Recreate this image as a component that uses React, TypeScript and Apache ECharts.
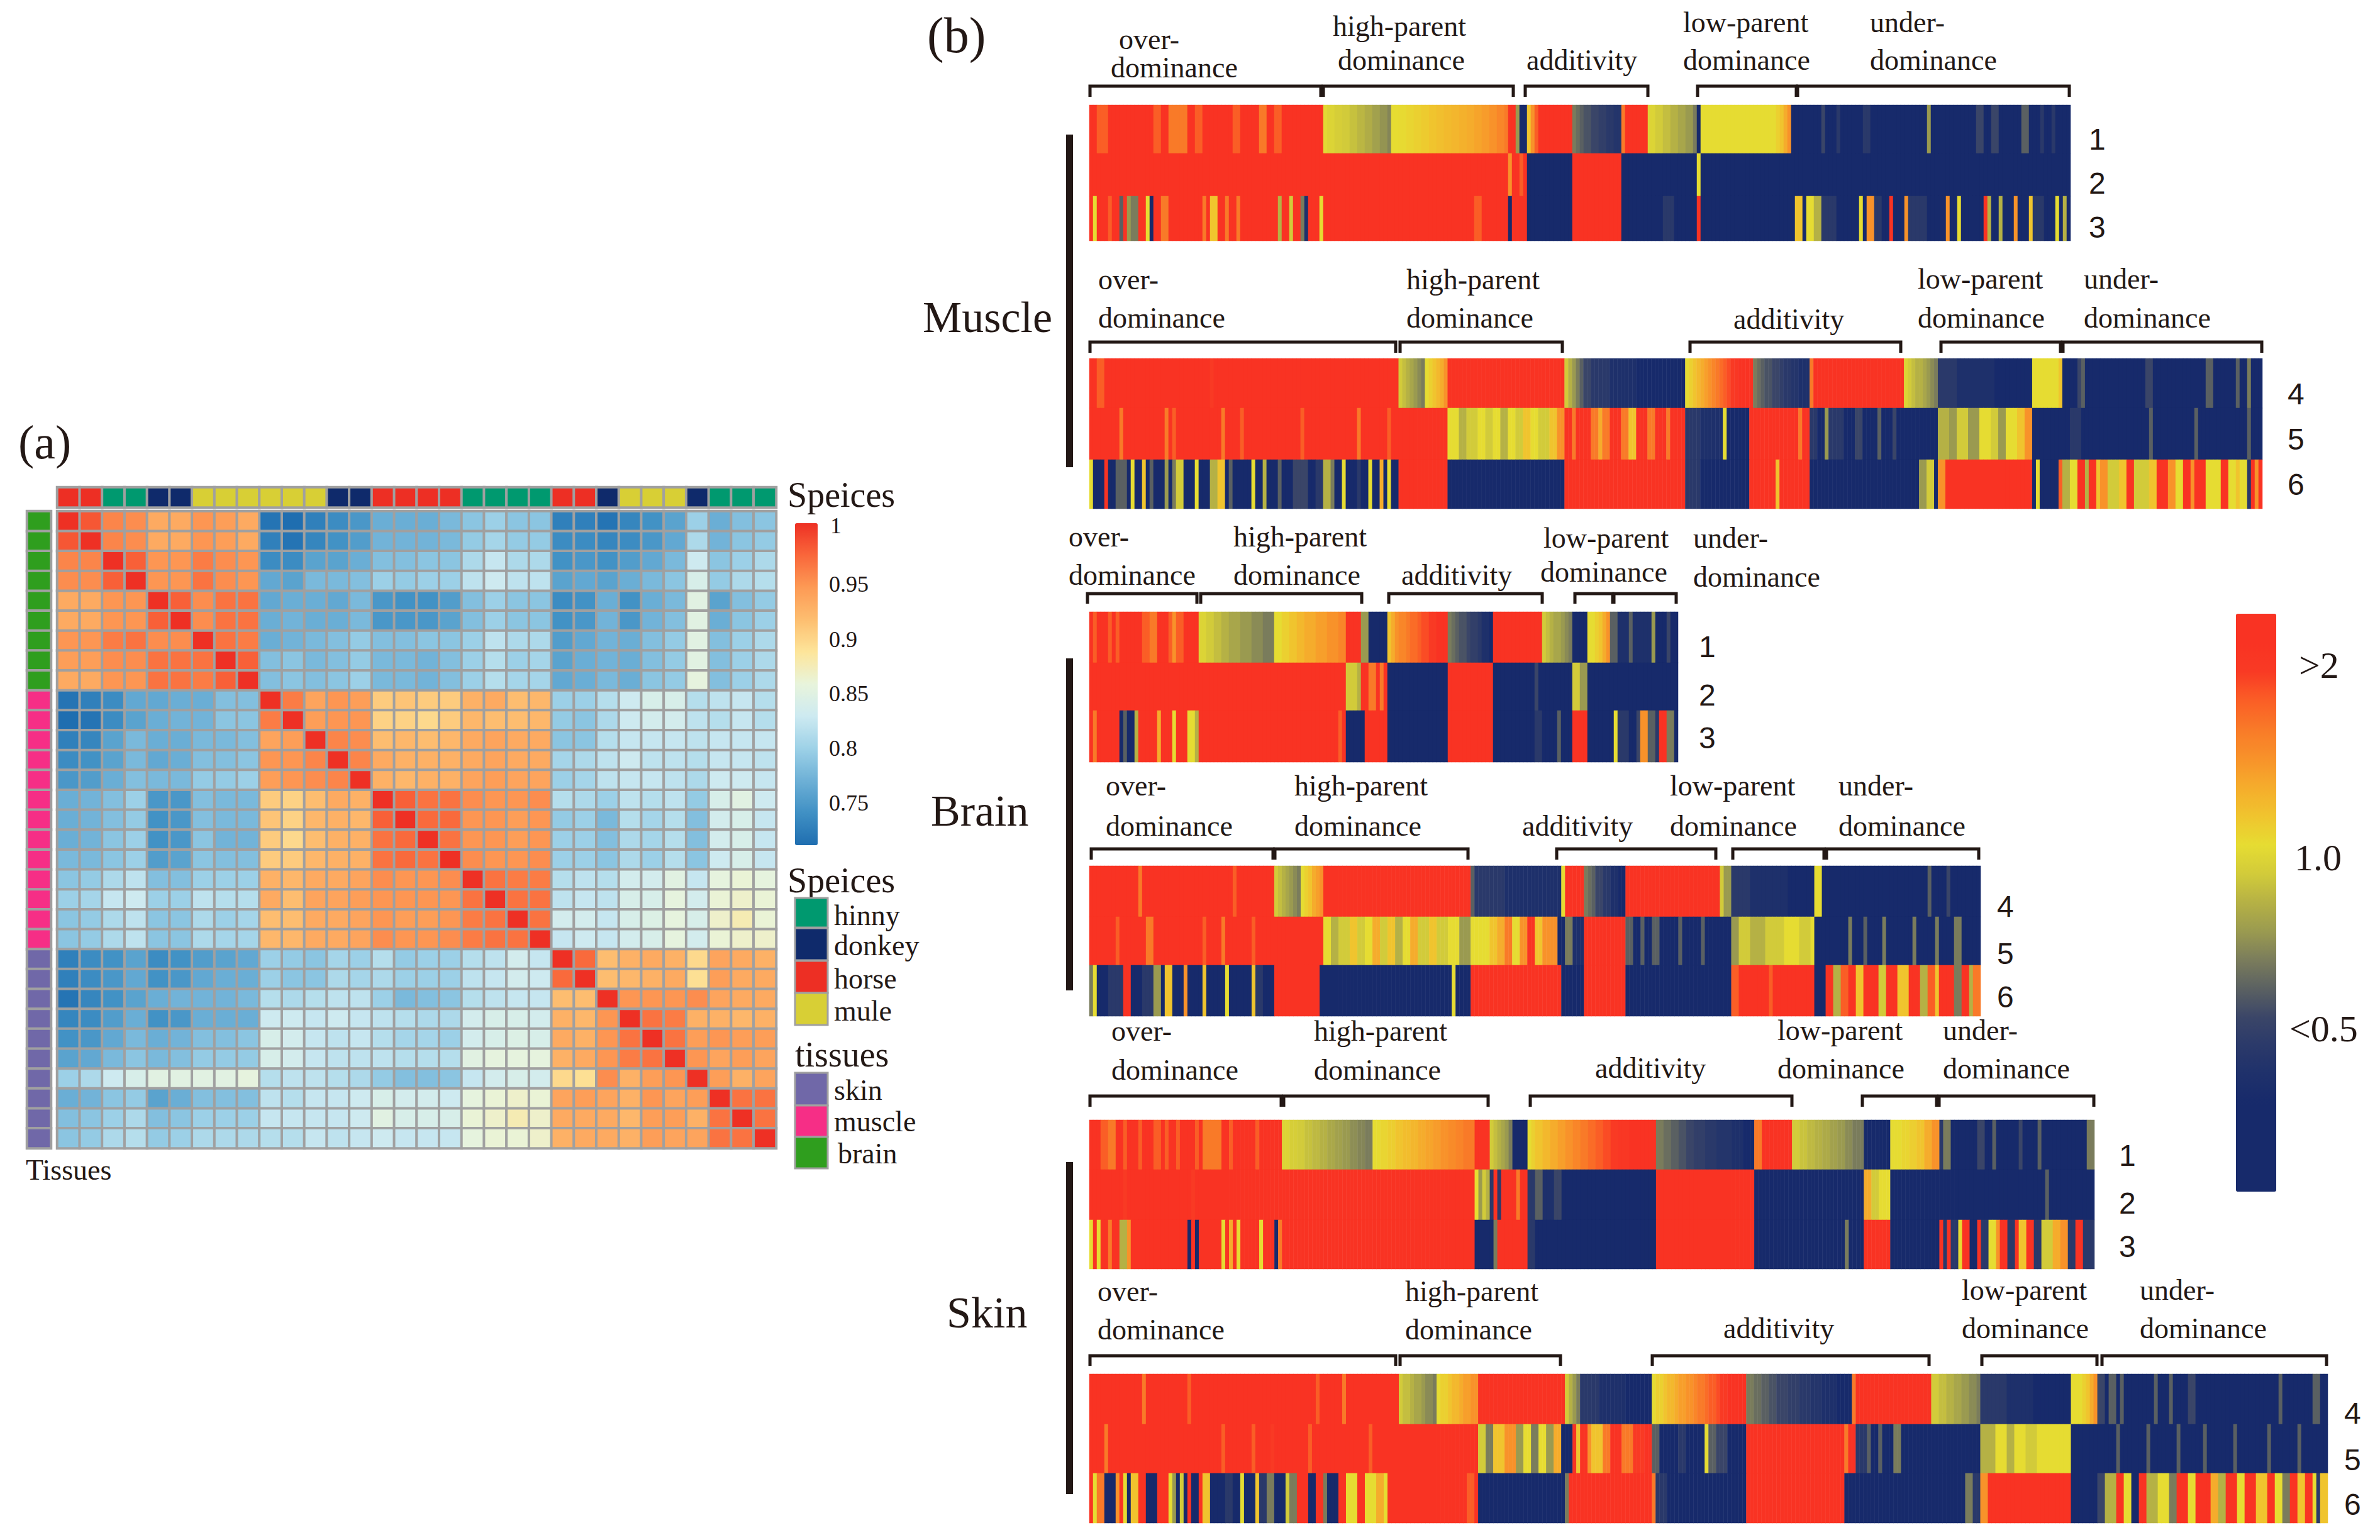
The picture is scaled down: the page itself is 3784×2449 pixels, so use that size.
import React, { useEffect, useRef } from "react";
import * as echarts from "echarts";

// ---------- panel (a): sample annotations (0 hinny, 1 donkey, 2 horse, 3 mule / 0 skin, 1 muscle, 2 brain)
const speciesNames = ["hinny", "donkey", "horse", "mule"];
const tissueNames = ["skin", "muscle", "brain"];
const speciesColors = ["#00996F", "#0F2A6B", "#ED2F24", "#D8CF35"];
const tissueColors = ["#7068A8", "#F62E86", "#2F9E1E"];
const sampleSpecies = [2, 2, 0, 0, 1, 1, 3, 3, 3, 3, 3, 3, 1, 1, 2, 2, 2, 2, 0, 0, 0, 0, 2, 2, 1, 3, 3, 3, 1, 0, 0, 0];
const sampleTissue = [2, 2, 2, 2, 2, 2, 2, 2, 2, 1, 1, 1, 1, 1, 1, 1, 1, 1, 1, 1, 1, 1, 0, 0, 0, 0, 0, 0, 0, 0, 0, 0];

// upper triangle of the correlation matrix, each row starts on the diagonal
const corrUpper = [
  [1, .98, .955, .95, .93, .93, .945, .94, .93, .72, .715, .73, .74, .75, .77, .77, .77, .78, .79, .80, .79, .79, .73, .73, .72, .735, .745, .76, .80, .77, .785, .79],
  [1, .955, .95, .93, .93, .945, .94, .93, .73, .72, .735, .745, .755, .775, .775, .775, .78, .795, .805, .795, .795, .74, .74, .735, .74, .75, .765, .81, .775, .79, .795],
  [1, .975, .945, .945, .96, .95, .945, .74, .74, .76, .76, .77, .785, .785, .79, .79, .81, .825, .81, .81, .745, .75, .745, .755, .765, .78, .83, .79, .80, .81],
  [1, .945, .945, .965, .95, .945, .765, .76, .78, .78, .785, .80, .795, .80, .80, .82, .83, .82, .82, .76, .765, .76, .77, .78, .79, .84, .795, .81, .815],
  [1, .975, .95, .965, .965, .765, .77, .77, .765, .78, .75, .745, .745, .755, .785, .80, .79, .79, .74, .745, .77, .745, .77, .78, .85, .76, .785, .795],
  [1, .95, .965, .965, .77, .775, .77, .77, .78, .75, .75, .75, .76, .785, .80, .79, .79, .745, .75, .775, .75, .775, .785, .85, .77, .79, .80],
  [1, .965, .96, .77, .775, .78, .785, .795, .785, .785, .79, .79, .80, .82, .81, .81, .755, .765, .775, .77, .785, .795, .85, .785, .80, .81],
  [1, .975, .785, .79, .78, .785, .795, .78, .78, .775, .785, .80, .815, .80, .805, .76, .77, .775, .77, .785, .795, .85, .785, .80, .81],
  [1, .785, .79, .785, .79, .80, .78, .78, .775, .785, .80, .815, .805, .805, .765, .77, .78, .77, .79, .795, .855, .785, .80, .81],
  [1, .96, .935, .945, .94, .905, .91, .905, .905, .925, .93, .915, .92, .80, .80, .815, .83, .84, .84, .815, .82, .825, .815],
  [1, .94, .945, .945, .90, .90, .895, .905, .92, .915, .915, .92, .795, .79, .81, .83, .835, .835, .82, .815, .825, .815],
  [1, .955, .95, .915, .92, .915, .92, .93, .935, .93, .93, .79, .79, .815, .825, .825, .825, .82, .825, .825, .825],
  [1, .955, .93, .925, .925, .925, .93, .935, .93, .93, .805, .81, .82, .83, .82, .82, .815, .825, .825, .82],
  [1, .925, .92, .925, .925, .935, .94, .935, .935, .80, .805, .82, .825, .825, .82, .81, .83, .83, .825],
  [1, .975, .965, .965, .95, .945, .945, .95, .815, .81, .80, .82, .815, .82, .795, .84, .85, .83],
  [1, .97, .97, .945, .945, .94, .945, .795, .80, .78, .815, .805, .815, .785, .835, .84, .825],
  [1, .965, .945, .945, .94, .945, .80, .80, .785, .81, .805, .815, .785, .835, .84, .825],
  [1, .95, .945, .945, .95, .80, .80, .79, .81, .80, .815, .79, .83, .84, .825],
  [1, .965, .96, .96, .815, .82, .815, .835, .835, .85, .825, .855, .86, .855],
  [1, .965, .965, .82, .825, .82, .84, .84, .855, .835, .86, .865, .86],
  [1, .965, .835, .835, .825, .84, .845, .855, .84, .865, .875, .86],
  [1, .825, .83, .825, .835, .84, .855, .835, .86, .865, .865],
  [1, .97, .915, .925, .93, .925, .895, .935, .93, .925],
  [1, .915, .92, .925, .93, .89, .94, .93, .93],
  [1, .945, .945, .945, .95, .935, .93, .93],
  [1, .965, .96, .925, .925, .92, .925],
  [1, .965, .94, .945, .94, .94],
  [1, .945, .935, .94, .935],
  [1, .94, .925, .935],
  [1, .965, .965],
  [1, .965],
  [1],
];

const corrTicks = ["1", "0.95", "0.9", "0.85", "0.8", "0.75"];
const foldTicks = [">2", "1.0", "<0.5"];

// ---------- panel (b): each row is a flat list  level, endColumn, level, endColumn ...
// level: 19 red, 15 orange, 12 yellow, 8 grey, 3 navy
const m1r1 = [19, 2, 17, 5, 19, 17, 17, 19, 19, 21, 16, 26, 19, 28, 17, 30, 19, 38, 17, 40, 19, 45, 16, 47, 19, 49, 17, 51, 19, 62, 11.8, 63, 11.5, 65, 11.2, 67, 11, 69, 10.6, 71, 10.2, 73, 9.8, 75, 9.3, 77, 8.8, 79, 8.3, 80, 12, 82, 12.1, 84, 12.3, 86, 12.5, 88, 12.7, 90, 13, 92, 13.2, 94, 13.4, 96, 13.6, 98, 13.8, 100, 14, 102, 14.3, 104, 14.6, 106, 15, 108, 15.5, 110, 16, 111, 19, 113, 9, 114, 3, 116, 13, 117, 15, 118, 17, 119, 19, 128, 8, 129, 7.5, 130, 7, 131, 6.5, 133, 6, 135, 5.5, 137, 5, 139, 4.5, 141, 16, 142, 19, 148, 11.5, 150, 11, 152, 10.5, 154, 10, 156, 9.5, 158, 9, 160, 8, 161, 3, 162, 12, 182, 12.5, 183, 13, 184, 14, 185, 15, 186, 3, 194, 6, 195, 3, 198, 5, 199, 3, 205, 5, 207, 3, 222, 9, 223, 3, 235, 6, 237, 3, 239, 6, 241, 3, 247, 7, 249, 3, 252, 5, 253, 3, 255, 5, 256, 3, 260];
const m1r2 = [19, 111, 15, 112, 19, 114, 17, 115, 19, 116, 3, 128, 19, 141, 3, 161, 12, 162, 3, 260];
const m1r3 = [19, 1, 12, 2, 19, 5, 17, 6, 19, 8, 7, 9, 19, 10, 9, 11, 8, 13, 19, 15, 12, 16, 3, 17, 19, 19, 16, 21, 19, 30, 16, 31, 19, 32, 13, 34, 19, 36, 16, 37, 19, 39, 16, 40, 19, 50, 10, 51, 19, 53, 11, 54, 19, 56, 8, 57, 4, 58, 19, 61, 12, 62, 19, 102, 17, 104, 19, 111, 3, 112, 19, 116, 3, 128, 19, 141, 3, 152, 5, 155, 3, 161, 19, 162, 3, 187, 13, 189, 3, 190, 12, 192, 10, 194, 5, 198, 3, 204, 12, 205, 3, 206, 15, 208, 5, 210, 3, 212, 19, 213, 3, 216, 15, 217, 5, 222, 3, 227, 15, 228, 3, 230, 12, 231, 3, 237, 19, 238, 10, 239, 3, 241, 10, 242, 3, 245, 15, 246, 3, 249, 13, 250, 5, 253, 3, 256, 12, 257, 3, 258, 10, 259, 3, 260];

const m2r1 = [19, 2, 17, 4, 19, 32, 18, 33, 19, 82, 11, 83, 10.5, 84, 10, 85, 9.5, 86, 9, 87, 8.5, 88, 8, 89, 12, 90, 12.5, 91, 13, 92, 13.5, 93, 14, 94, 15, 95, 19, 126, 11, 127, 10, 128, 9, 129, 8, 130, 7, 131, 6, 133, 5, 138, 4, 145, 3, 158, 12, 159, 12.5, 160, 13, 161, 13.5, 162, 14, 163, 14.5, 164, 15, 165, 15.5, 166, 16, 167, 16.5, 168, 17, 169, 17.5, 170, 18, 171, 18.5, 172, 19, 176, 8, 177, 7.5, 178, 7, 179, 6.5, 181, 6, 183, 5.5, 184, 5, 186, 4.5, 188, 4, 191, 16, 192, 19, 216, 11.5, 217, 11, 218, 10.5, 219, 10, 221, 9.5, 222, 9, 223, 8.5, 224, 8, 225, 5, 230, 4, 240, 3, 250, 12, 257, 13, 258, 3, 262, 6, 263, 7, 264, 3, 280, 6, 282, 3, 296, 7, 298, 3, 304, 7, 305, 3, 307, 8, 308, 3, 311];
const m2r2 = [19, 8, 16, 9, 19, 20, 16, 21, 19, 22, 17, 23, 19, 35, 16, 36, 19, 40, 17, 41, 19, 56, 17, 57, 19, 71, 16, 72, 19, 79, 17, 80, 19, 95, 12, 98, 10, 100, 11, 103, 12, 105, 11, 107, 12, 109, 10, 111, 12, 113, 11, 115, 13, 117, 12, 119, 11, 122, 13, 124, 15, 126, 19, 128, 16, 129, 19, 133, 16, 135, 14, 136, 16, 138, 19, 141, 16, 143, 13, 145, 19, 148, 16, 150, 19, 153, 16, 154, 19, 158, 5, 162, 4, 168, 12, 169, 3, 175, 19, 188, 16, 189, 19, 191, 5, 193, 3, 195, 9, 196, 5, 200, 3, 203, 6, 205, 3, 209, 7, 210, 3, 213, 6, 214, 3, 225, 10, 228, 9, 230, 11, 233, 9, 236, 12, 239, 11, 241, 9, 243, 12, 246, 13, 248, 15, 250, 3, 260, 5, 263, 3, 281, 7, 282, 3, 293, 7, 294, 3, 307, 7, 308, 3, 311];
const m2r3 = [12, 1, 3, 4, 19, 5, 3, 7, 7, 10, 3, 11, 12, 12, 3, 14, 13, 15, 3, 16, 7, 17, 3, 20, 9, 21, 3, 22, 8, 23, 11, 25, 3, 28, 12, 29, 3, 32, 10, 34, 13, 36, 3, 37, 7, 38, 3, 43, 12, 44, 3, 46, 10, 47, 3, 50, 7, 51, 3, 54, 6, 58, 3, 60, 5, 62, 10, 64, 8, 65, 3, 67, 12, 68, 3, 71, 5, 72, 3, 74, 12, 75, 3, 77, 14, 78, 3, 79, 12, 80, 3, 82, 19, 95, 3, 126, 19, 158, 5, 162, 3, 175, 19, 182, 13, 183, 19, 191, 3, 220, 9, 222, 11, 224, 3, 225, 15, 227, 19, 250, 3, 251, 12, 252, 3, 257, 17, 258, 10, 260, 12, 262, 19, 264, 10, 265, 19, 267, 13, 268, 15, 270, 11, 273, 13, 275, 19, 277, 11, 281, 13, 283, 19, 286, 15, 288, 12, 290, 19, 292, 15, 293, 19, 296, 12, 300, 19, 302, 12, 304, 13, 305, 12, 307, 5, 308, 19, 309, 15, 310, 19, 311];

const b1r1 = [19, 1, 17, 2, 19, 5, 17, 6, 19, 7, 17, 8, 19, 14, 17, 16, 16, 18, 19, 21, 17, 22, 15, 23, 17, 25, 19, 29, 11.5, 31, 11, 33, 10.5, 35, 10, 37, 9.5, 40, 9, 43, 8.5, 46, 8, 49, 12, 51, 12.5, 53, 13, 55, 13.5, 57, 14, 60, 14.5, 63, 15, 66, 15.5, 68, 19, 72, 9, 74, 3, 79, 13, 80, 14, 81, 15, 82, 15.5, 84, 16, 85, 16.5, 87, 17, 88, 17.5, 90, 18, 92, 19, 95, 8, 96, 7.5, 97, 7, 98, 6.5, 100, 6, 101, 5.5, 103, 5, 104, 4, 106, 3, 107, 19, 120, 11, 121, 10.5, 122, 10, 123, 9.5, 125, 9, 126, 8.5, 127, 8, 128, 3, 132, 12, 134, 12.5, 135, 13, 136, 14, 137, 15, 138, 7, 140, 4, 143, 7, 144, 4, 149, 9, 150, 3, 153, 6, 154, 3, 156];
const b1r2 = [19, 68, 11, 71, 10, 72, 19, 74, 16, 76, 19, 77, 16, 78, 19, 79, 3, 95, 19, 107, 3, 118, 6, 119, 3, 128, 11, 130, 9, 132, 3, 156];
const b1r3 = [19, 1, 16, 2, 19, 8, 3, 9, 7, 10, 3, 12, 10, 13, 19, 18, 14, 19, 19, 22, 12, 23, 19, 26, 12, 28, 10, 29, 19, 66, 17, 67, 19, 68, 3, 73, 19, 79, 3, 95, 19, 107, 3, 118, 5, 120, 3, 124, 7, 125, 3, 128, 19, 132, 3, 139, 12, 140, 5, 143, 3, 145, 6, 146, 15, 148, 7, 150, 5, 151, 19, 153, 8, 155, 3, 156];

const b2r1 = [19, 13, 16, 14, 19, 38, 17, 39, 19, 49, 11, 50, 10.5, 51, 10, 52, 9.5, 53, 9, 54, 8.5, 55, 8, 56, 12, 57, 12.5, 58, 13, 59, 14, 60, 14.5, 61, 15, 62, 19, 101, 7, 102, 5, 110, 4, 125, 12, 126, 19, 131, 8, 132, 7.5, 133, 7, 134, 6, 136, 5, 138, 4, 140, 3, 142, 19, 167, 11, 168, 9, 170, 5, 175, 4, 185, 3, 192, 12, 194, 3, 222, 7, 223, 3, 227, 6, 228, 3, 236];
const b2r2 = [19, 7, 17, 8, 19, 15, 16, 17, 19, 30, 17, 31, 19, 35, 16, 36, 19, 43, 17, 44, 19, 62, 12, 64, 10, 66, 11, 69, 13, 71, 11, 73, 12, 75, 14, 77, 11, 79, 13, 81, 10, 83, 12, 85, 14, 87, 11, 90, 13, 92, 11, 95, 12, 98, 9, 101, 12, 106, 13, 108, 14, 110, 16, 112, 12, 114, 15, 116, 19, 118, 13, 120, 15, 124, 3, 126, 8, 128, 4, 131, 19, 142, 7, 144, 3, 146, 7, 147, 3, 149, 7, 151, 3, 156, 7, 157, 3, 162, 7, 163, 3, 170, 9, 172, 11, 175, 10, 179, 11, 184, 12, 188, 11, 191, 12, 192, 3, 201, 8, 202, 3, 205, 7, 206, 3, 210, 8, 211, 3, 218, 8, 219, 3, 224, 8, 225, 3, 229, 8, 231, 3, 236];
const b2r3 = [8, 1, 12, 2, 3, 5, 5, 9, 19, 11, 3, 14, 5, 17, 9, 19, 3, 20, 13, 22, 3, 25, 15, 26, 3, 30, 13, 31, 3, 36, 12, 37, 3, 43, 13, 44, 5, 46, 3, 49, 19, 61, 3, 96, 12, 97, 3, 101, 19, 125, 3, 131, 19, 142, 3, 170, 17, 172, 19, 180, 17, 181, 19, 192, 3, 195, 19, 197, 10, 199, 17, 201, 19, 203, 13, 205, 19, 209, 11, 211, 19, 214, 13, 217, 19, 220, 10, 222, 17, 224, 13, 225, 19, 229, 8, 231, 19, 233, 10, 234, 16, 236];

const s1r1 = [19, 3, 17, 5, 16, 7, 19, 9, 17, 10, 19, 13, 17, 14, 19, 17, 17, 19, 19, 20, 17, 21, 19, 23, 17, 24, 19, 28, 17, 29, 19, 30, 16, 35, 19, 37, 17, 38, 19, 44, 17, 45, 19, 51, 11.5, 53, 11.2, 55, 11, 57, 10.6, 59, 10.3, 61, 10, 63, 9.6, 65, 9.3, 67, 9, 69, 8.6, 71, 8.3, 73, 8, 75, 12, 77, 12.3, 79, 12.6, 81, 13, 83, 13.3, 85, 13.6, 87, 14, 89, 14.3, 91, 14.6, 93, 15, 95, 15.3, 97, 15.6, 99, 16, 102, 19, 106, 11, 107, 10.5, 108, 10, 109, 9.5, 110, 9, 111, 8, 112, 3, 116, 12, 117, 12.5, 118, 13, 120, 13.5, 122, 14, 124, 14.5, 126, 15, 128, 15.5, 130, 16, 132, 16.5, 134, 17, 136, 17.5, 138, 18, 140, 18.5, 143, 19, 150, 8, 152, 7.5, 154, 7, 156, 6.5, 158, 6, 160, 5.5, 163, 5, 166, 4.5, 170, 4, 173, 3, 176, 16, 178, 19, 186, 11, 188, 10.7, 190, 10.3, 192, 10, 194, 9.7, 196, 9.3, 198, 9, 200, 8.5, 202, 8, 205, 3, 212, 12, 215, 12.3, 217, 12.6, 219, 13, 221, 14, 223, 15, 225, 5, 226, 8, 228, 3, 235, 6, 237, 3, 239, 7, 240, 3, 246, 6, 247, 3, 251, 7, 252, 3, 264, 8, 266];
const s1r2 = [19, 9, 18, 10, 19, 27, 18, 28, 19, 102, 12, 103, 9, 104, 11, 105, 10, 106, 5, 107, 19, 108, 5, 109, 19, 113, 16, 114, 19, 116, 5, 118, 7, 120, 4, 123, 6, 125, 3, 150, 19, 176, 3, 205, 14, 207, 11, 209, 12, 212, 3, 253, 7, 254, 3, 266];
const s1r3 = [12, 1, 19, 2, 12, 3, 19, 5, 16, 6, 19, 8, 10, 10, 15, 11, 19, 26, 3, 27, 19, 28, 3, 29, 19, 35, 12, 36, 19, 37, 14, 38, 19, 39, 12, 40, 19, 45, 12, 46, 19, 49, 3, 50, 16, 51, 19, 102, 3, 107, 8, 108, 19, 116, 5, 118, 3, 150, 19, 176, 3, 200, 8, 201, 3, 205, 19, 212, 3, 225, 19, 226, 5, 227, 19, 228, 5, 230, 12, 231, 19, 233, 3, 235, 19, 236, 5, 238, 12, 240, 15, 241, 19, 243, 5, 245, 19, 246, 13, 248, 19, 250, 5, 252, 11, 255, 14, 257, 15, 259, 5, 261, 19, 263, 5, 266];

const s2r1 = [19, 14, 16, 15, 19, 26, 17, 27, 19, 60, 17, 61, 19, 67, 16, 68, 19, 82, 11, 83, 10.5, 85, 10, 86, 9.5, 88, 9, 89, 8.5, 91, 8, 92, 12, 93, 12.5, 95, 13, 96, 13.5, 98, 14, 99, 14.5, 101, 15, 103, 19, 126, 11, 127, 10, 128, 9, 129, 8, 130, 5, 135, 4, 142, 3, 149, 12, 150, 12.5, 152, 13, 153, 13.5, 155, 14, 156, 14.5, 158, 15, 160, 15.5, 161, 16, 163, 16.5, 164, 17, 166, 17.5, 167, 18, 169, 19, 174, 8, 176, 7.5, 178, 7, 180, 6.5, 182, 6, 185, 5.5, 188, 5, 191, 4.5, 194, 4, 198, 3, 202, 16, 203, 19, 223, 11, 225, 10.5, 227, 10, 229, 9.5, 231, 9, 233, 8.5, 235, 8, 236, 5, 243, 4, 250, 3, 260, 12, 263, 12.5, 264, 13, 265, 14, 266, 15, 267, 6, 269, 3, 270, 7, 272, 3, 273, 7, 274, 3, 282, 7, 283, 3, 286, 7, 287, 3, 291, 6, 293, 3, 315, 7, 316, 3, 324, 7, 326, 3, 328];
const s2r2 = [19, 4, 16, 5, 19, 35, 17, 36, 19, 43, 17, 44, 19, 48, 18, 49, 19, 58, 17, 59, 19, 74, 17, 75, 19, 103, 11, 105, 8, 107, 13, 110, 15, 113, 9, 115, 12, 117, 8, 119, 12, 121, 9, 123, 14, 125, 3, 128, 19, 129, 13, 130, 19, 132, 15, 133, 13, 136, 16, 138, 19, 141, 16, 144, 18, 147, 19, 149, 7, 151, 3, 156, 5, 158, 3, 163, 12, 164, 7, 166, 6, 169, 3, 174, 19, 200, 16, 201, 19, 203, 5, 206, 7, 207, 3, 209, 7, 210, 3, 213, 8, 215, 3, 236, 10, 240, 12, 243, 10, 245, 12, 248, 11, 251, 12, 260, 3, 272, 7, 273, 3, 280, 7, 281, 3, 288, 7, 289, 3, 295, 7, 296, 3, 303, 7, 304, 3, 312, 7, 313, 3, 320, 7, 321, 3, 328];
const s2r3 = [19, 1, 12, 2, 16, 4, 3, 7, 15, 8, 19, 9, 12, 10, 3, 11, 13, 13, 19, 15, 3, 18, 19, 21, 12, 22, 9, 23, 3, 24, 11, 25, 3, 26, 19, 27, 3, 29, 19, 30, 13, 32, 3, 36, 5, 38, 3, 40, 12, 41, 3, 44, 13, 45, 5, 47, 8, 49, 3, 52, 11, 53, 8, 55, 19, 58, 3, 60, 19, 62, 8, 63, 3, 66, 19, 68, 12, 71, 19, 73, 12, 76, 14, 78, 12, 79, 19, 100, 17, 102, 19, 103, 3, 126, 8, 127, 19, 149, 16, 150, 5, 153, 3, 174, 19, 200, 3, 232, 8, 234, 5, 236, 15, 238, 19, 260, 3, 267, 6, 269, 10, 272, 19, 274, 12, 276, 3, 278, 19, 280, 10, 283, 12, 286, 8, 288, 19, 291, 12, 293, 19, 297, 14, 299, 10, 301, 19, 304, 12, 306, 19, 309, 13, 312, 19, 314, 12, 316, 8, 318, 19, 320, 13, 322, 19, 324, 12, 325, 5, 326, 13, 328];

const rowNames = ["1", "2", "3", "4", "5", "6"];
const sectionNames = ["Muscle", "Brain", "Skin"];

// ---------- layout
const panels = [
  { x0: 1732, x1: 3292, n: 260, ys: [167, 244, 312, 383], rows: [m1r1, m1r2, m1r3], first: 0 },
  { x0: 1732, x1: 3597, n: 311, ys: [570, 649, 731, 809], rows: [m2r1, m2r2, m2r3], first: 3 },
  { x0: 1732, x1: 2668, n: 156, ys: [973, 1054, 1130, 1212], rows: [b1r1, b1r2, b1r3], first: 0 },
  { x0: 1732, x1: 3149, n: 236, ys: [1377, 1458, 1535, 1616], rows: [b2r1, b2r2, b2r3], first: 3 },
  { x0: 1732, x1: 3330, n: 266, ys: [1781, 1860, 1940, 2018], rows: [s1r1, s1r2, s1r3], first: 0 },
  { x0: 1732, x1: 3701, n: 328, ys: [2185, 2265, 2343, 2422], rows: [s2r1, s2r2, s2r3], first: 3 },
];

const brackets: [number, number, number[][]][] = [
  [137, 154, [[1733, 2100], [2104, 2406], [2425, 2620], [2699, 2856], [2858, 3290]]],
  [544, 561, [[1733, 2219], [2226, 2484], [2687, 3022], [3086, 3276], [3280, 3596]]],
  [944, 960, [[1729, 1903], [1909, 2165], [2208, 2452], [2504, 2564], [2566, 2665]]],
  [1350, 1367, [[1735, 2024], [2027, 2334], [2475, 2728], [2755, 2900], [2904, 3146]]],
  [1743, 1760, [[1733, 2037], [2041, 2366], [2433, 2849], [2961, 3079], [3083, 3329]]],
  [2156, 2172, [[1733, 2219], [2226, 2481], [2627, 3067], [3151, 3334], [3342, 3699]]],
];

const groupLabels: [string, number, number][] = [
  ["over-", 1779, 62], ["dominance", 1766, 107], ["high-parent", 2119, 41], ["dominance", 2127, 95], ["additivity", 2427, 95], ["low-parent", 2676, 35], ["dominance", 2676, 95], ["under-", 2973, 35], ["dominance", 2973, 95],
  ["over-", 1746, 444], ["dominance", 1746, 505], ["high-parent", 2236, 444], ["dominance", 2236, 505], ["additivity", 2756, 507], ["low-parent", 3049, 443], ["dominance", 3049, 505], ["under-", 3313, 443], ["dominance", 3313, 505],
  ["over-", 1699, 853], ["dominance", 1699, 914], ["high-parent", 1961, 853], ["dominance", 1961, 914], ["additivity", 2228, 914], ["low-parent", 2454, 855], ["dominance", 2449, 909], ["under-", 2692, 855], ["dominance", 2692, 917],
  ["over-", 1758, 1249], ["dominance", 1758, 1313], ["high-parent", 2058, 1249], ["dominance", 2058, 1313], ["additivity", 2420, 1313], ["low-parent", 2655, 1249], ["dominance", 2655, 1313], ["under-", 2923, 1249], ["dominance", 2923, 1313],
  ["over-", 1767, 1639], ["dominance", 1767, 1701], ["high-parent", 2089, 1639], ["dominance", 2089, 1701], ["additivity", 2536, 1698], ["low-parent", 2826, 1638], ["dominance", 2826, 1699], ["under-", 3089, 1638], ["dominance", 3089, 1699],
  ["over-", 1745, 2053], ["dominance", 1745, 2114], ["high-parent", 2234, 2053], ["dominance", 2234, 2114], ["additivity", 2740, 2112], ["low-parent", 3119, 2051], ["dominance", 3119, 2112], ["under-", 3402, 2051], ["dominance", 3402, 2112],
];

const rowLabelPos: [number, number, number, number, number][] = [
  [0, 3321, 221, 291, 361],
  [1, 3637, 626, 698, 770],
  [2, 2701, 1028, 1105, 1173],
  [3, 3175, 1441, 1516, 1585],
  [4, 3369, 1837, 1913, 1982],
  [5, 3727, 2247, 2321, 2392],
];

const SERIF = '"Liberation Serif"';
const INK = "#231815";

const foldColors = ["#172A6B", "#172A6B", "#172A6B", "#172A6B", "#1E306B", "#2A396A", "#3A4568", "#5A6062", "#7A7C5C", "#9A9A50", "#B5B145", "#D2CB3A", "#E6DC32", "#F0C42E", "#F5AC2C", "#F8922A", "#F97A28", "#FA5E26", "#F93A24", "#F93323", "#F93323"];
const corrColors = ["#1F6EB0", "#4090C4", "#6DB0D6", "#9DD1E7", "#CDEAF1", "#E8F4DC", "#FDE59A", "#FDBE70", "#FD9A55", "#F9673B", "#EE3024"];

function decode(flat: number[], n: number): number[] {
  const out: number[] = [];
  let c = 0;
  for (let i = 0; i < flat.length; i += 2) {
    while (c < flat[i + 1] && c < n) out[c++] = flat[i];
  }
  const last = flat[flat.length - 2];
  while (c < n) out[c++] = last;
  return out;
}

function txt(text: string, x: number, y: number, fontSize: number, family = SERIF, align = "left") {
  return { type: "text", x, y, silent: true, style: { text, fontSize, fontFamily: family, fill: INK, align, verticalAlign: "middle" } };
}

function buildOption() {
  const grid: any[] = [];
  const xAxis: any[] = [];
  const yAxis: any[] = [];
  const series: any[] = [];
  const addGrid = (left: number, top: number, width: number, height: number, xs: number[], ys: number[], inverseY: boolean) => {
    const i = grid.length;
    grid.push({ left, top, width, height, containLabel: false, show: false });
    xAxis.push({ type: "category", gridIndex: i, show: false, data: xs });
    yAxis.push({ type: "category", gridIndex: i, show: false, data: ys, inverse: inverseY });
    return i;
  };
  const idx = Array.from({ length: 32 }, (_, i) => i);
  const cellBorder = { borderColor: "#A0A0A0", borderWidth: 4 };

  // (a) matrix
  const matrixData: number[][] = [];
  corrUpper.forEach((row, i) => {
    row.forEach((v, k) => {
      const j = i + k;
      matrixData.push([j, i, v]);
      if (j !== i) matrixData.push([i, j, v]);
    });
  });
  const gm = addGrid(91, 813, 1143, 1013, idx, idx, true);
  series.push({ type: "heatmap", xAxisIndex: gm, yAxisIndex: gm, data: matrixData, progressive: 0, silent: true, itemStyle: cellBorder });
  const corrSeries = [0];

  // annotations
  const gs = addGrid(91, 775, 1143, 32, idx, [0], false);
  series.push({ type: "heatmap", xAxisIndex: gs, yAxisIndex: gs, data: sampleSpecies.map((v, i) => [i, 0, v]), progressive: 0, silent: true, itemStyle: cellBorder });
  const gt = addGrid(43, 813, 38, 1013, [0], idx, true);
  series.push({ type: "heatmap", xAxisIndex: gt, yAxisIndex: gt, data: sampleTissue.map((v, i) => [0, i, v]), progressive: 0, silent: true, itemStyle: cellBorder });

  // (b) rows
  const foldSeries: number[] = [];
  panels.forEach((p) => {
    const cols = Array.from({ length: p.n }, (_, i) => i);
    p.rows.forEach((row, r) => {
      const g = addGrid(p.x0, p.ys[r], p.x1 - p.x0, p.ys[r + 1] - p.ys[r], cols, [0], false);
      foldSeries.push(series.length);
      series.push({ type: "heatmap", xAxisIndex: g, yAxisIndex: g, data: decode(row, p.n).map((v, c) => [c, 0, v]), progressive: 0, silent: true });
    });
  });

  const graphic: any[] = [];
  graphic.push(txt("(a)", 29, 703, 76), txt("(b)", 1474, 56, 80));
  graphic.push(txt("Speices", 1252, 787, 56), txt("Speices", 1252, 1400, 56), txt("tissues", 1264, 1677, 56), txt("Tissues", 41, 1860, 46));
  const corrY = [836, 929, 1017, 1103, 1190, 1277];
  corrTicks.forEach((t, i) => graphic.push(txt(t, i === 0 ? 1320 : 1318, corrY[i], 36)));

  const swatch = (x: number, y: number, w: number, h: number, fill: string) => ({ type: "rect", silent: true, shape: { x, y, width: w, height: h }, style: { fill, stroke: "#A0A0A0", lineWidth: 3 } });
  const spY = [[1428, 47, 1455], [1476, 51, 1503], [1528, 51, 1556], [1579, 51, 1607]];
  speciesNames.forEach((name, i) => {
    graphic.push(swatch(1264, spY[i][0], 52, spY[i][1], speciesColors[i]));
    graphic.push(txt(name, 1326, spY[i][2], 46));
  });
  const tiY = [[1706, 52, 1733], [1758, 50, 1783], [1808, 50, 1834]];
  tissueNames.forEach((name, i) => {
    graphic.push(swatch(1264, tiY[i][0], 52, tiY[i][1], tissueColors[i]));
    graphic.push(txt(name, i === 2 ? 1332 : 1326, tiY[i][2], 46));
  });

  graphic.push(txt(sectionNames[0], 1467, 504, 70), txt(sectionNames[1], 1480, 1289, 70), txt(sectionNames[2], 1505, 2087, 70));
  [[214, 743], [1047, 1575], [1848, 2376]].forEach(([a, b]) => {
    graphic.push({ type: "rect", silent: true, shape: { x: 1695, y: a, width: 11, height: b - a }, style: { fill: INK } });
  });

  brackets.forEach(([top, bottom, spans]) => {
    spans.forEach(([a, b]) => {
      graphic.push({ type: "polyline", silent: true, shape: { points: [[a, bottom], [a, top], [b, top], [b, bottom]] }, style: { stroke: INK, lineWidth: 5, fill: "none" } });
    });
  });
  groupLabels.forEach(([t, x, y]) => graphic.push(txt(t, x, y, 46)));

  rowLabelPos.forEach(([pi, x, a, b, c]) => {
    const first = panels[pi].first;
    [a, b, c].forEach((y, k) => graphic.push(txt(rowNames[first + k], x, y, 48, '"Liberation Sans"')));
  });

  const foldY = [1058, 1364, 1636];
  const foldX = [3655, 3648, 3640];
  foldTicks.forEach((t, i) => graphic.push(txt(t, foldX[i], foldY[i], 60)));

  return {
    animation: false,
    backgroundColor: "#ffffff",
    grid,
    xAxis,
    yAxis,
    series,
    graphic,
    visualMap: [
      { type: "continuous", seriesIndex: corrSeries, min: 0.715, max: 1, show: true, calculable: false, hoverLink: false, left: 1264, top: 832, padding: 0, itemWidth: 36, itemHeight: 512, text: undefined, inRange: { color: corrColors } },
      { type: "continuous", seriesIndex: foldSeries, min: 0, max: 20, show: true, calculable: false, hoverLink: false, left: 3555, top: 976, padding: 0, itemWidth: 64, itemHeight: 919, text: undefined, inRange: { color: foldColors } },
      { type: "piecewise", seriesIndex: [1], show: false, pieces: speciesColors.map((color, value) => ({ value, color })) },
      { type: "piecewise", seriesIndex: [2], show: false, pieces: tissueColors.map((color, value) => ({ value, color })) },
    ],
  };
}

export default function App() {
  const ref = useRef<HTMLDivElement>(null);
  useEffect(() => {
    const chart = echarts.init(ref.current!, undefined, { renderer: "svg" });
    chart.setOption(buildOption() as any);
    return () => chart.dispose();
  }, []);
  return <div ref={ref} style={{ position: "absolute", left: 0, top: 0, width: 3784, height: 2449 }} />;
}
